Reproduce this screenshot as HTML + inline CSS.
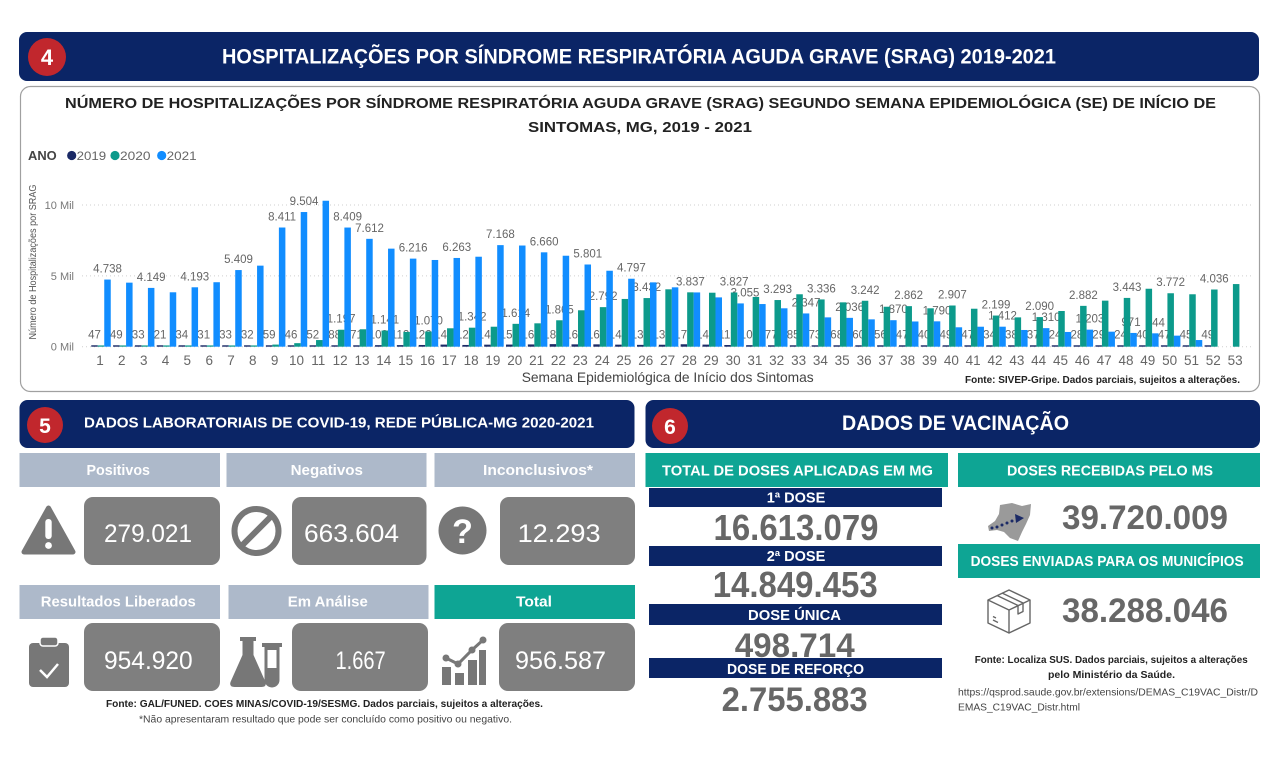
<!DOCTYPE html>
<html><head><meta charset="utf-8"><style>
html,body{margin:0;padding:0;background:#fff;}
svg{display:block;font-family:"Liberation Sans",Arial,sans-serif;}
.d{fill:#1b2a66}.t{fill:#0c9a8b}.b{fill:#118dff}
.lb{font-size:11.5px;fill:#666;text-anchor:middle}
.wk{font-size:13.5px;fill:#666;text-anchor:middle}
.hd{font-weight:bold;fill:#fff}
</style></head><body>
<svg width="1280" height="759" viewBox="0 0 1280 759" xmlns="http://www.w3.org/2000/svg">
<rect width="1280" height="759" fill="#fff"/>

<!-- Header 4 -->
<rect x="19" y="32" width="1240" height="49" rx="8" fill="#0b2566"/>
<circle cx="47" cy="57" r="19" fill="#c1272d"/>
<text x="47" y="65" font-size="22" font-weight="bold" fill="#fff" text-anchor="middle">4</text>
<text x="222" y="63.5" font-size="21" class="hd" textLength="834" lengthAdjust="spacingAndGlyphs">HOSPITALIZAÇÕES POR SÍNDROME RESPIRATÓRIA AGUDA GRAVE (SRAG) 2019-2021</text>

<!-- Chart box -->
<rect x="20.5" y="86.5" width="1239" height="305" rx="10" fill="#fff" stroke="#a0a0a0" stroke-width="1.2"/>
<text x="65" y="108" font-size="15" font-weight="bold" fill="#222" textLength="1151" lengthAdjust="spacingAndGlyphs">NÚMERO DE HOSPITALIZAÇÕES POR SÍNDROME RESPIRATÓRIA AGUDA GRAVE (SRAG) SEGUNDO SEMANA EPIDEMIOLÓGICA (SE) DE INÍCIO DE</text>
<text x="528" y="132" font-size="15" font-weight="bold" fill="#222" textLength="224" lengthAdjust="spacingAndGlyphs">SINTOMAS, MG, 2019 - 2021</text>

<!-- Legend -->
<text x="28" y="160" font-size="12.5" font-weight="bold" fill="#444" textLength="28.7" lengthAdjust="spacingAndGlyphs">ANO</text>
<circle cx="71.7" cy="155.5" r="4.6" fill="#1b2a66"/>
<text x="76.7" y="160" font-size="12" fill="#666" textLength="29.5" lengthAdjust="spacingAndGlyphs">2019</text>
<circle cx="115" cy="155.5" r="4.6" fill="#0c9a8b"/>
<text x="120" y="160" font-size="12" fill="#666" textLength="30.5" lengthAdjust="spacingAndGlyphs">2020</text>
<circle cx="161.7" cy="155.5" r="4.6" fill="#118dff"/>
<text x="166.7" y="160" font-size="12" fill="#666" textLength="30" lengthAdjust="spacingAndGlyphs">2021</text>

<!-- Grid -->
<g stroke="#cfcfcf" stroke-width="1" stroke-dasharray="1 3">
<line x1="82" y1="205" x2="1252" y2="205"/>
<line x1="82" y1="275.9" x2="1252" y2="275.9"/>
<line x1="82" y1="346.7" x2="1252" y2="346.7"/>
</g>
<g font-size="11" fill="#777" text-anchor="end">
<text x="74" y="209">10 Mil</text>
<text x="74" y="280">5 Mil</text>
<text x="74" y="350.7">0 Mil</text>
</g>
<text transform="translate(36 262) rotate(-90)" font-size="10" fill="#555" text-anchor="middle" textLength="155" lengthAdjust="spacingAndGlyphs">Número de Hospitalizações por SRAG</text>

<!-- Data labels (drawn under bars) -->
<g class="lb">
<text x="107.5" y="272.6">4.738</text>
<text x="151.2" y="280.9">4.149</text>
<text x="194.8" y="280.3">4.193</text>
<text x="238.5" y="263.1">5.409</text>
<text x="282.1" y="220.5">8.411</text>
<text x="304" y="205">9.504</text>
<text x="347.6" y="220.5">8.409</text>
<text x="369.5" y="231.8">7.612</text>
<text x="413.1" y="251.6">6.216</text>
<text x="456.8" y="251">6.263</text>
<text x="500.4" y="238.1">7.168</text>
<text x="544.1" y="245.3">6.660</text>
<text x="587.8" y="257.5">5.801</text>
<text x="631.4" y="271.7">4.797</text>
<text x="745" y="296.4">3.055</text>
<text x="806" y="306.4">2.347</text>
<text x="849.7" y="310.9">2.036</text>
<text x="893.4" y="313.2">1.870</text>
<text x="937" y="314.3">1.790</text>
<text x="1002.5" y="319.7">1.412</text>
<text x="1046.2" y="321.1">1.310</text>
<text x="1089.9" y="322.7">1.203</text>
<text x="1131" y="325.9">971</text>
<text x="1155.3" y="326.3">944</text>

<text x="341.1" y="322.7">1.197</text>
<text x="384.8" y="323.5">1.141</text>
<text x="428.5" y="324.5">1.070</text>
<text x="472.1" y="320.7">1.342</text>
<text x="515.8" y="316.8">1.614</text>
<text x="559.4" y="313.3">1.865</text>
<text x="603.1" y="300.1">2.792</text>
<text x="646.8" y="291.1">3.432</text>
<text x="690.4" y="285.3">3.837</text>
<text x="734.1" y="285.5">3.827</text>
<text x="777.7" y="293">3.293</text>
<text x="821.4" y="292.4">3.336</text>
<text x="865.1" y="293.8">3.242</text>
<text x="908.7" y="299.1">2.862</text>
<text x="952.4" y="298.5">2.907</text>
<text x="996" y="308.5">2.199</text>
<text x="1039.7" y="310.1">2.090</text>
<text x="1083.4" y="298.9">2.882</text>
<text x="1127" y="290.9">3.443</text>
<text x="1170.7" y="286.2">3.772</text>
<text x="1214.3" y="282.5">4.036</text>

<text x="94.5" y="338.5">47</text>
<text x="116.3" y="338.5">49</text>
<text x="138.2" y="338.5">33</text>
<text x="160" y="338.5">21</text>
<text x="181.8" y="338.5">34</text>
<text x="203.7" y="338.5">31</text>
<text x="225.5" y="338.5">33</text>
<text x="247.3" y="338.5">32</text>
<text x="269.1" y="338.5">59</text>
<text x="291" y="338.5">46</text>
<text x="312.8" y="338.5">52</text>
<text x="334.6" y="338.5">88</text>
<text x="356.5" y="338.5">71</text>
<text x="378.3" y="338.5">109</text>
<text x="400.1" y="338.5">112</text>
<text x="422" y="338.5">122</text>
<text x="443.8" y="338.5">149</text>
<text x="465.6" y="338.5">123</text>
<text x="487.4" y="338.5">144</text>
<text x="509.3" y="338.5">151</text>
<text x="531.1" y="338.5">160</text>
<text x="552.9" y="338.5">181</text>
<text x="574.8" y="338.5">166</text>
<text x="596.6" y="338.5">166</text>
<text x="618.4" y="338.5">145</text>
<text x="640.3" y="338.5">130</text>
<text x="662.1" y="338.5">138</text>
<text x="683.9" y="338.5">172</text>
<text x="705.7" y="338.5">148</text>
<text x="727.6" y="338.5">119</text>
<text x="749.4" y="338.5">108</text>
<text x="771.2" y="338.5">77</text>
<text x="793.1" y="338.5">85</text>
<text x="814.9" y="338.5">73</text>
<text x="836.7" y="338.5">68</text>
<text x="858.6" y="338.5">60</text>
<text x="880.4" y="338.5">56</text>
<text x="902.2" y="338.5">47</text>
<text x="924" y="338.5">40</text>
<text x="945.9" y="338.5">49</text>
<text x="967.7" y="338.5">47</text>
<text x="989.5" y="338.5">34</text>
<text x="1011.4" y="338.5">38</text>
<text x="1033.2" y="338.5">37</text>
<text x="1055" y="338.5">24</text>
<text x="1076.9" y="338.5">28</text>
<text x="1098.7" y="338.5">29</text>
<text x="1120.5" y="338.5">24</text>
<text x="1142.3" y="338.5">40</text>
<text x="1164.2" y="338.5">47</text>
<text x="1186" y="338.5">45</text>
<text x="1207.8" y="338.5">49</text>
</g>

<!-- Bars -->
<g transform="translate(0 346.7) scale(1 -0.01417)">
<g transform="translate(101 0)"><rect class="d" x="-9.75" width="6.5" height="100"/><rect class="t" x="-3.25" width="6.5" height="90"/><rect class="b" x="3.25" width="6.5" height="4738"/></g>
<g transform="translate(122.83 0)"><rect class="d" x="-9.75" width="6.5" height="100"/><rect class="t" x="-3.25" width="6.5" height="90"/><rect class="b" x="3.25" width="6.5" height="4520"/></g>
<g transform="translate(144.66 0)"><rect class="d" x="-9.75" width="6.5" height="100"/><rect class="t" x="-3.25" width="6.5" height="90"/><rect class="b" x="3.25" width="6.5" height="4149"/></g>
<g transform="translate(166.49 0)"><rect class="d" x="-9.75" width="6.5" height="100"/><rect class="t" x="-3.25" width="6.5" height="90"/><rect class="b" x="3.25" width="6.5" height="3840"/></g>
<g transform="translate(188.32 0)"><rect class="d" x="-9.75" width="6.5" height="100"/><rect class="t" x="-3.25" width="6.5" height="90"/><rect class="b" x="3.25" width="6.5" height="4193"/></g>
<g transform="translate(210.15 0)"><rect class="d" x="-9.75" width="6.5" height="100"/><rect class="t" x="-3.25" width="6.5" height="90"/><rect class="b" x="3.25" width="6.5" height="4550"/></g>
<g transform="translate(231.98 0)"><rect class="d" x="-9.75" width="6.5" height="100"/><rect class="t" x="-3.25" width="6.5" height="90"/><rect class="b" x="3.25" width="6.5" height="5409"/></g>
<g transform="translate(253.81 0)"><rect class="d" x="-9.75" width="6.5" height="100"/><rect class="t" x="-3.25" width="6.5" height="90"/><rect class="b" x="3.25" width="6.5" height="5720"/></g>
<g transform="translate(275.64 0)"><rect class="d" x="-9.75" width="6.5" height="100"/><rect class="t" x="-3.25" width="6.5" height="150"/><rect class="b" x="3.25" width="6.5" height="8411"/></g>
<g transform="translate(297.47 0)"><rect class="d" x="-9.75" width="6.5" height="100"/><rect class="t" x="-3.25" width="6.5" height="250"/><rect class="b" x="3.25" width="6.5" height="9504"/></g>
<g transform="translate(319.30 0)"><rect class="d" x="-9.75" width="6.5" height="100"/><rect class="t" x="-3.25" width="6.5" height="470"/><rect class="b" x="3.25" width="6.5" height="10300"/></g>
<g transform="translate(341.13 0)"><rect class="d" x="-9.75" width="6.5" height="100"/><rect class="t" x="-3.25" width="6.5" height="1197"/><rect class="b" x="3.25" width="6.5" height="8409"/></g>
<g transform="translate(362.96 0)"><rect class="d" x="-9.75" width="6.5" height="100"/><rect class="t" x="-3.25" width="6.5" height="1230"/><rect class="b" x="3.25" width="6.5" height="7612"/></g>
<g transform="translate(384.79 0)"><rect class="d" x="-9.75" width="6.5" height="109"/><rect class="t" x="-3.25" width="6.5" height="1141"/><rect class="b" x="3.25" width="6.5" height="6920"/></g>
<g transform="translate(406.62 0)"><rect class="d" x="-9.75" width="6.5" height="112"/><rect class="t" x="-3.25" width="6.5" height="1040"/><rect class="b" x="3.25" width="6.5" height="6216"/></g>
<g transform="translate(428.45 0)"><rect class="d" x="-9.75" width="6.5" height="122"/><rect class="t" x="-3.25" width="6.5" height="1070"/><rect class="b" x="3.25" width="6.5" height="6120"/></g>
<g transform="translate(450.28 0)"><rect class="d" x="-9.75" width="6.5" height="149"/><rect class="t" x="-3.25" width="6.5" height="1300"/><rect class="b" x="3.25" width="6.5" height="6263"/></g>
<g transform="translate(472.11 0)"><rect class="d" x="-9.75" width="6.5" height="123"/><rect class="t" x="-3.25" width="6.5" height="1342"/><rect class="b" x="3.25" width="6.5" height="6350"/></g>
<g transform="translate(493.94 0)"><rect class="d" x="-9.75" width="6.5" height="144"/><rect class="t" x="-3.25" width="6.5" height="1410"/><rect class="b" x="3.25" width="6.5" height="7168"/></g>
<g transform="translate(515.77 0)"><rect class="d" x="-9.75" width="6.5" height="151"/><rect class="t" x="-3.25" width="6.5" height="1614"/><rect class="b" x="3.25" width="6.5" height="7140"/></g>
<g transform="translate(537.60 0)"><rect class="d" x="-9.75" width="6.5" height="160"/><rect class="t" x="-3.25" width="6.5" height="1650"/><rect class="b" x="3.25" width="6.5" height="6660"/></g>
<g transform="translate(559.43 0)"><rect class="d" x="-9.75" width="6.5" height="181"/><rect class="t" x="-3.25" width="6.5" height="1865"/><rect class="b" x="3.25" width="6.5" height="6420"/></g>
<g transform="translate(581.26 0)"><rect class="d" x="-9.75" width="6.5" height="166"/><rect class="t" x="-3.25" width="6.5" height="2570"/><rect class="b" x="3.25" width="6.5" height="5801"/></g>
<g transform="translate(603.09 0)"><rect class="d" x="-9.75" width="6.5" height="166"/><rect class="t" x="-3.25" width="6.5" height="2792"/><rect class="b" x="3.25" width="6.5" height="5360"/></g>
<g transform="translate(624.92 0)"><rect class="d" x="-9.75" width="6.5" height="145"/><rect class="t" x="-3.25" width="6.5" height="3370"/><rect class="b" x="3.25" width="6.5" height="4797"/></g>
<g transform="translate(646.75 0)"><rect class="d" x="-9.75" width="6.5" height="130"/><rect class="t" x="-3.25" width="6.5" height="3432"/><rect class="b" x="3.25" width="6.5" height="4540"/></g>
<g transform="translate(668.58 0)"><rect class="d" x="-9.75" width="6.5" height="138"/><rect class="t" x="-3.25" width="6.5" height="4050"/><rect class="b" x="3.25" width="6.5" height="4190"/></g>
<g transform="translate(690.41 0)"><rect class="d" x="-9.75" width="6.5" height="172"/><rect class="t" x="-3.25" width="6.5" height="3837"/><rect class="b" x="3.25" width="6.5" height="3830"/></g>
<g transform="translate(712.24 0)"><rect class="d" x="-9.75" width="6.5" height="148"/><rect class="t" x="-3.25" width="6.5" height="3810"/><rect class="b" x="3.25" width="6.5" height="3480"/></g>
<g transform="translate(734.07 0)"><rect class="d" x="-9.75" width="6.5" height="119"/><rect class="t" x="-3.25" width="6.5" height="3827"/><rect class="b" x="3.25" width="6.5" height="3055"/></g>
<g transform="translate(755.90 0)"><rect class="d" x="-9.75" width="6.5" height="108"/><rect class="t" x="-3.25" width="6.5" height="3510"/><rect class="b" x="3.25" width="6.5" height="3010"/></g>
<g transform="translate(777.73 0)"><rect class="d" x="-9.75" width="6.5" height="100"/><rect class="t" x="-3.25" width="6.5" height="3293"/><rect class="b" x="3.25" width="6.5" height="2710"/></g>
<g transform="translate(799.56 0)"><rect class="d" x="-9.75" width="6.5" height="100"/><rect class="t" x="-3.25" width="6.5" height="3700"/><rect class="b" x="3.25" width="6.5" height="2347"/></g>
<g transform="translate(821.39 0)"><rect class="d" x="-9.75" width="6.5" height="100"/><rect class="t" x="-3.25" width="6.5" height="3336"/><rect class="b" x="3.25" width="6.5" height="2070"/></g>
<g transform="translate(843.22 0)"><rect class="d" x="-9.75" width="6.5" height="100"/><rect class="t" x="-3.25" width="6.5" height="3130"/><rect class="b" x="3.25" width="6.5" height="2036"/></g>
<g transform="translate(865.05 0)"><rect class="d" x="-9.75" width="6.5" height="100"/><rect class="t" x="-3.25" width="6.5" height="3242"/><rect class="b" x="3.25" width="6.5" height="1930"/></g>
<g transform="translate(886.88 0)"><rect class="d" x="-9.75" width="6.5" height="100"/><rect class="t" x="-3.25" width="6.5" height="2820"/><rect class="b" x="3.25" width="6.5" height="1870"/></g>
<g transform="translate(908.71 0)"><rect class="d" x="-9.75" width="6.5" height="100"/><rect class="t" x="-3.25" width="6.5" height="2862"/><rect class="b" x="3.25" width="6.5" height="1780"/></g>
<g transform="translate(930.54 0)"><rect class="d" x="-9.75" width="6.5" height="100"/><rect class="t" x="-3.25" width="6.5" height="2710"/><rect class="b" x="3.25" width="6.5" height="1790"/></g>
<g transform="translate(952.37 0)"><rect class="d" x="-9.75" width="6.5" height="100"/><rect class="t" x="-3.25" width="6.5" height="2907"/><rect class="b" x="3.25" width="6.5" height="1370"/></g>
<g transform="translate(974.20 0)"><rect class="d" x="-9.75" width="6.5" height="100"/><rect class="t" x="-3.25" width="6.5" height="2680"/><rect class="b" x="3.25" width="6.5" height="1410"/></g>
<g transform="translate(996.03 0)"><rect class="d" x="-9.75" width="6.5" height="100"/><rect class="t" x="-3.25" width="6.5" height="2199"/><rect class="b" x="3.25" width="6.5" height="1412"/></g>
<g transform="translate(1017.86 0)"><rect class="d" x="-9.75" width="6.5" height="100"/><rect class="t" x="-3.25" width="6.5" height="2070"/><rect class="b" x="3.25" width="6.5" height="1180"/></g>
<g transform="translate(1039.69 0)"><rect class="d" x="-9.75" width="6.5" height="100"/><rect class="t" x="-3.25" width="6.5" height="2090"/><rect class="b" x="3.25" width="6.5" height="1310"/></g>
<g transform="translate(1061.52 0)"><rect class="d" x="-9.75" width="6.5" height="100"/><rect class="t" x="-3.25" width="6.5" height="2520"/><rect class="b" x="3.25" width="6.5" height="1040"/></g>
<g transform="translate(1083.35 0)"><rect class="d" x="-9.75" width="6.5" height="100"/><rect class="t" x="-3.25" width="6.5" height="2882"/><rect class="b" x="3.25" width="6.5" height="1203"/></g>
<g transform="translate(1105.18 0)"><rect class="d" x="-9.75" width="6.5" height="100"/><rect class="t" x="-3.25" width="6.5" height="3250"/><rect class="b" x="3.25" width="6.5" height="1060"/></g>
<g transform="translate(1127.01 0)"><rect class="d" x="-9.75" width="6.5" height="100"/><rect class="t" x="-3.25" width="6.5" height="3443"/><rect class="b" x="3.25" width="6.5" height="971"/></g>
<g transform="translate(1148.84 0)"><rect class="d" x="-9.75" width="6.5" height="100"/><rect class="t" x="-3.25" width="6.5" height="4090"/><rect class="b" x="3.25" width="6.5" height="944"/></g>
<g transform="translate(1170.67 0)"><rect class="d" x="-9.75" width="6.5" height="100"/><rect class="t" x="-3.25" width="6.5" height="3772"/><rect class="b" x="3.25" width="6.5" height="780"/></g>
<g transform="translate(1192.50 0)"><rect class="d" x="-9.75" width="6.5" height="100"/><rect class="t" x="-3.25" width="6.5" height="3700"/><rect class="b" x="3.25" width="6.5" height="470"/></g>
<g transform="translate(1214.33 0)"><rect class="d" x="-9.75" width="6.5" height="100"/><rect class="t" x="-3.25" width="6.5" height="4036"/></g>
<g transform="translate(1236.16 0)"><rect class="t" x="-3.25" width="6.5" height="4420"/></g>
</g>

<!-- Week labels -->
<g class="wk">
<text x="100" y="365">1</text><text x="121.8" y="365">2</text><text x="143.7" y="365">3</text><text x="165.5" y="365">4</text><text x="187.3" y="365">5</text><text x="209.2" y="365">6</text><text x="231" y="365">7</text><text x="252.8" y="365">8</text><text x="274.6" y="365">9</text><text x="296.5" y="365">10</text>
<text x="318.3" y="365">11</text><text x="340.1" y="365">12</text><text x="362" y="365">13</text><text x="383.8" y="365">14</text><text x="405.6" y="365">15</text><text x="427.5" y="365">16</text><text x="449.3" y="365">17</text><text x="471.1" y="365">18</text><text x="492.9" y="365">19</text><text x="514.8" y="365">20</text>
<text x="536.6" y="365">21</text><text x="558.4" y="365">22</text><text x="580.3" y="365">23</text><text x="602.1" y="365">24</text><text x="623.9" y="365">25</text><text x="645.8" y="365">26</text><text x="667.6" y="365">27</text><text x="689.4" y="365">28</text><text x="711.2" y="365">29</text><text x="733.1" y="365">30</text>
<text x="754.9" y="365">31</text><text x="776.7" y="365">32</text><text x="798.6" y="365">33</text><text x="820.4" y="365">34</text><text x="842.2" y="365">35</text><text x="864.1" y="365">36</text><text x="885.9" y="365">37</text><text x="907.7" y="365">38</text><text x="929.5" y="365">39</text><text x="951.4" y="365">40</text>
<text x="973.2" y="365">41</text><text x="995" y="365">42</text><text x="1016.9" y="365">43</text><text x="1038.7" y="365">44</text><text x="1060.5" y="365">45</text><text x="1082.4" y="365">46</text><text x="1104.2" y="365">47</text><text x="1126" y="365">48</text><text x="1147.8" y="365">49</text><text x="1169.7" y="365">50</text>
<text x="1191.5" y="365">51</text><text x="1213.3" y="365">52</text><text x="1235.2" y="365">53</text>
</g>
<text x="521.7" y="382" font-size="14" fill="#444" textLength="292" lengthAdjust="spacingAndGlyphs">Semana Epidemiológica de Início dos Sintomas</text>
<text x="965" y="383" font-size="10.5" font-weight="bold" fill="#222" textLength="275" lengthAdjust="spacingAndGlyphs">Fonte: SIVEP-Gripe. Dados parciais, sujeitos a alterações.</text>

<!-- Section 5 -->
<rect x="19.5" y="400" width="615" height="48" rx="8" fill="#0b2566"/>
<circle cx="45" cy="425" r="18" fill="#c1272d"/>
<text x="45" y="433" font-size="21" font-weight="bold" fill="#fff" text-anchor="middle">5</text>
<text x="84" y="427.5" font-size="15" class="hd" textLength="510" lengthAdjust="spacingAndGlyphs">DADOS LABORATORIAIS DE COVID-19, REDE PÚBLICA-MG 2020-2021</text>

<rect x="19.5" y="453" width="200.5" height="34" fill="#adb9ca"/>
<rect x="226.5" y="453" width="200" height="34" fill="#adb9ca"/>
<rect x="434.5" y="453" width="200.5" height="34" fill="#adb9ca"/>
<text x="86.5" y="475" font-size="14.5" class="hd" textLength="63.5" lengthAdjust="spacingAndGlyphs">Positivos</text>
<text x="290.6" y="475" font-size="14.5" class="hd" textLength="72.4" lengthAdjust="spacingAndGlyphs">Negativos</text>
<text x="483" y="475" font-size="14.5" class="hd" textLength="110" lengthAdjust="spacingAndGlyphs">Inconclusivos*</text>

<rect x="84" y="497" width="136" height="68" rx="9" fill="#7f7f7f"/>
<rect x="292" y="497" width="134.5" height="68" rx="9" fill="#7f7f7f"/>
<rect x="500" y="497" width="135" height="68" rx="9" fill="#7f7f7f"/>
<text x="104" y="542" font-size="25" fill="#fff" textLength="88" lengthAdjust="spacingAndGlyphs">279.021</text>
<text x="304" y="542" font-size="25" fill="#fff" textLength="95" lengthAdjust="spacingAndGlyphs">663.604</text>
<text x="517.6" y="542" font-size="25" fill="#fff" textLength="83" lengthAdjust="spacingAndGlyphs">12.293</text>

<!-- icons row 1 -->
<path d="M48.5,508 L73,552 L24,552 Z" fill="#777" stroke="#777" stroke-width="5" stroke-linejoin="round"/>
<rect x="45.3" y="519" width="6.4" height="20" rx="3" fill="#fff"/>
<circle cx="48.5" cy="545.5" r="3.4" fill="#fff"/>
<circle cx="256.5" cy="531" r="22" fill="none" stroke="#777" stroke-width="6"/>
<line x1="241.5" y1="546" x2="271.5" y2="516" stroke="#777" stroke-width="6"/>
<circle cx="462.5" cy="530.5" r="24" fill="#777"/>
<text x="462.5" y="543" font-size="34" font-weight="bold" fill="#fff" text-anchor="middle">?</text>

<rect x="19.5" y="585" width="200.5" height="34" fill="#adb9ca"/>
<rect x="228.5" y="585" width="200" height="34" fill="#adb9ca"/>
<rect x="434.5" y="585" width="200.5" height="34" fill="#0ea594"/>
<text x="40.8" y="606.5" font-size="14.5" class="hd" textLength="155" lengthAdjust="spacingAndGlyphs">Resultados Liberados</text>
<text x="287.8" y="606.5" font-size="14.5" class="hd" textLength="80" lengthAdjust="spacingAndGlyphs">Em Análise</text>
<text x="516" y="606.5" font-size="14.5" class="hd" textLength="36" lengthAdjust="spacingAndGlyphs">Total</text>

<rect x="84" y="623" width="136" height="68" rx="9" fill="#7f7f7f"/>
<rect x="292" y="623" width="136" height="68" rx="9" fill="#7f7f7f"/>
<rect x="499" y="623" width="136" height="68" rx="9" fill="#7f7f7f"/>
<text x="104" y="669" font-size="25" fill="#fff" textLength="88.7" lengthAdjust="spacingAndGlyphs">954.920</text>
<text x="335.5" y="669" font-size="25" fill="#fff" textLength="50.2" lengthAdjust="spacingAndGlyphs">1.667</text>
<text x="515" y="669" font-size="25" fill="#fff" textLength="91" lengthAdjust="spacingAndGlyphs">956.587</text>

<!-- icons row 2 -->
<rect x="29" y="643" width="40" height="44" rx="4" fill="#777"/>
<rect x="40" y="637" width="18" height="9" rx="3" fill="#777" stroke="#fff" stroke-width="1.5"/>
<polyline points="40,670 47,677 58,664" fill="none" stroke="#fff" stroke-width="2.5"/>
<path d="M240,637 h16 v4 h-2.5 v14 l12,27 q1.5,5 -4,5 h-27 q-5.5,0 -4,-5 l12,-27 v-14 h-2.5 z" fill="#777"/>
<rect x="262" y="643" width="20" height="4" fill="#777"/>
<path d="M264.5,647 h15 v33 a7.5,7.5 0 0 1 -15,0 z" fill="#777"/>
<rect x="267.5" y="650" width="9" height="18" fill="#fff"/>
<rect x="442" y="667" width="9" height="18" fill="#777"/>
<rect x="455" y="673" width="9" height="12" fill="#777"/>
<rect x="468" y="660" width="9" height="25" fill="#777"/>
<rect x="479" y="650" width="7" height="35" fill="#777"/>
<polyline points="446,658 458,664 472,650 483,640" fill="none" stroke="#777" stroke-width="3"/>
<circle cx="446" cy="658" r="3.5" fill="#777"/><circle cx="458" cy="664" r="3.5" fill="#777"/><circle cx="472" cy="650" r="3.5" fill="#777"/><circle cx="483" cy="640" r="3.5" fill="#777"/>

<text x="106" y="707" font-size="10.5" font-weight="bold" fill="#222" textLength="437" lengthAdjust="spacingAndGlyphs">Fonte: GAL/FUNED. COES MINAS/COVID-19/SESMG. Dados parciais, sujeitos a alterações.</text>
<text x="139" y="722.5" font-size="10" fill="#444" textLength="373" lengthAdjust="spacingAndGlyphs">*Não apresentaram resultado que pode ser concluído como positivo ou negativo.</text>

<!-- Section 6 -->
<rect x="645.5" y="400" width="614.5" height="48" rx="8" fill="#0b2566"/>
<circle cx="670" cy="426" r="18" fill="#c1272d"/>
<text x="670" y="434" font-size="21" font-weight="bold" fill="#fff" text-anchor="middle">6</text>
<text x="842" y="430" font-size="21" class="hd" textLength="227" lengthAdjust="spacingAndGlyphs">DADOS DE VACINAÇÃO</text>

<rect x="645.5" y="453" width="302.5" height="34" fill="#0ea594"/>
<text x="662" y="475.5" font-size="15" class="hd" textLength="271" lengthAdjust="spacingAndGlyphs">TOTAL DE DOSES APLICADAS EM MG</text>
<rect x="958" y="453" width="302" height="34" fill="#0ea594"/>
<text x="1007" y="475.5" font-size="15" class="hd" textLength="206" lengthAdjust="spacingAndGlyphs">DOSES RECEBIDAS PELO MS</text>

<rect x="649" y="488" width="293" height="19" fill="#0b2566"/>
<text x="796" y="502.5" font-size="14.5" class="hd" text-anchor="middle">1ª DOSE</text>
<text x="713.5" y="540" font-size="36" font-weight="bold" fill="#676767" textLength="165" lengthAdjust="spacingAndGlyphs">16.613.079</text>
<rect x="649" y="546" width="293" height="20" fill="#0b2566"/>
<text x="796" y="561" font-size="14.5" class="hd" text-anchor="middle">2ª DOSE</text>
<text x="712.7" y="597" font-size="36" font-weight="bold" fill="#676767" textLength="165" lengthAdjust="spacingAndGlyphs">14.849.453</text>
<rect x="649" y="604" width="293" height="21" fill="#0b2566"/>
<text x="748" y="620" font-size="15" class="hd" textLength="93" lengthAdjust="spacingAndGlyphs">DOSE ÚNICA</text>
<text x="734.7" y="657" font-size="34" font-weight="bold" fill="#676767" textLength="120" lengthAdjust="spacingAndGlyphs">498.714</text>
<rect x="649" y="658" width="293" height="20" fill="#0b2566"/>
<text x="727" y="674" font-size="15" class="hd" textLength="137" lengthAdjust="spacingAndGlyphs">DOSE DE REFORÇO</text>
<text x="721.6" y="711" font-size="34" font-weight="bold" fill="#676767" textLength="146" lengthAdjust="spacingAndGlyphs">2.755.883</text>

<!-- map icon -->
<path d="M1000,505 L1012,503 L1022,506 L1031,504 L1030,515 L1026,524 L1022,532 L1018,541 L1010,538 L1004,532 L997,530 L989,531 L988,526 L995,521 L999,514 Z" fill="#9a9a9a"/>
<g fill="#1b2a66"><circle cx="992" cy="528" r="1.5"/><circle cx="997" cy="527" r="1.5"/><circle cx="1002" cy="525" r="1.5"/><circle cx="1007" cy="523" r="1.5"/><circle cx="1012" cy="521" r="1.5"/><path d="M1015,514 L1024,518 L1016,523 Z"/></g>
<text x="1062" y="529" font-size="34" font-weight="bold" fill="#676767" textLength="166" lengthAdjust="spacingAndGlyphs">39.720.009</text>

<rect x="958" y="544" width="302" height="34" fill="#0ea594"/>
<text x="970.6" y="566" font-size="15" class="hd" textLength="273" lengthAdjust="spacingAndGlyphs">DOSES ENVIADAS PARA OS MUNICÍPIOS</text>

<!-- box icon -->
<g fill="none" stroke="#666" stroke-width="1.4" stroke-linejoin="round">
<path d="M988,600 L1009,590 L1030,600 L1009,610 Z"/>
<path d="M988,600 L988,623 L1009,633 L1009,610"/>
<path d="M1030,600 L1030,623 L1009,633"/>
<path d="M997,595.5 L1018,605.5 L1018,614 L1023,611.5 L1023,603 L1002,593"/>
<path d="M993,620 L998,622.5 M993,616.5 L996,618"/>
</g>
<text x="1062" y="622" font-size="34" font-weight="bold" fill="#676767" textLength="166" lengthAdjust="spacingAndGlyphs">38.288.046</text>

<text x="974.7" y="663" font-size="10.5" font-weight="bold" fill="#222" textLength="273" lengthAdjust="spacingAndGlyphs">Fonte: Localiza SUS. Dados parciais, sujeitos a alterações</text>
<text x="1048" y="678" font-size="10.5" font-weight="bold" fill="#222" textLength="127" lengthAdjust="spacingAndGlyphs">pelo Ministério da Saúde.</text>
<text x="958" y="695.5" font-size="10.5" fill="#444" textLength="300" lengthAdjust="spacingAndGlyphs">https://qsprod.saude.gov.br/extensions/DEMAS_C19VAC_Distr/D</text>
<text x="958" y="710.5" font-size="10.5" fill="#444" textLength="122" lengthAdjust="spacingAndGlyphs">EMAS_C19VAC_Distr.html</text>
</svg>
</body></html>
